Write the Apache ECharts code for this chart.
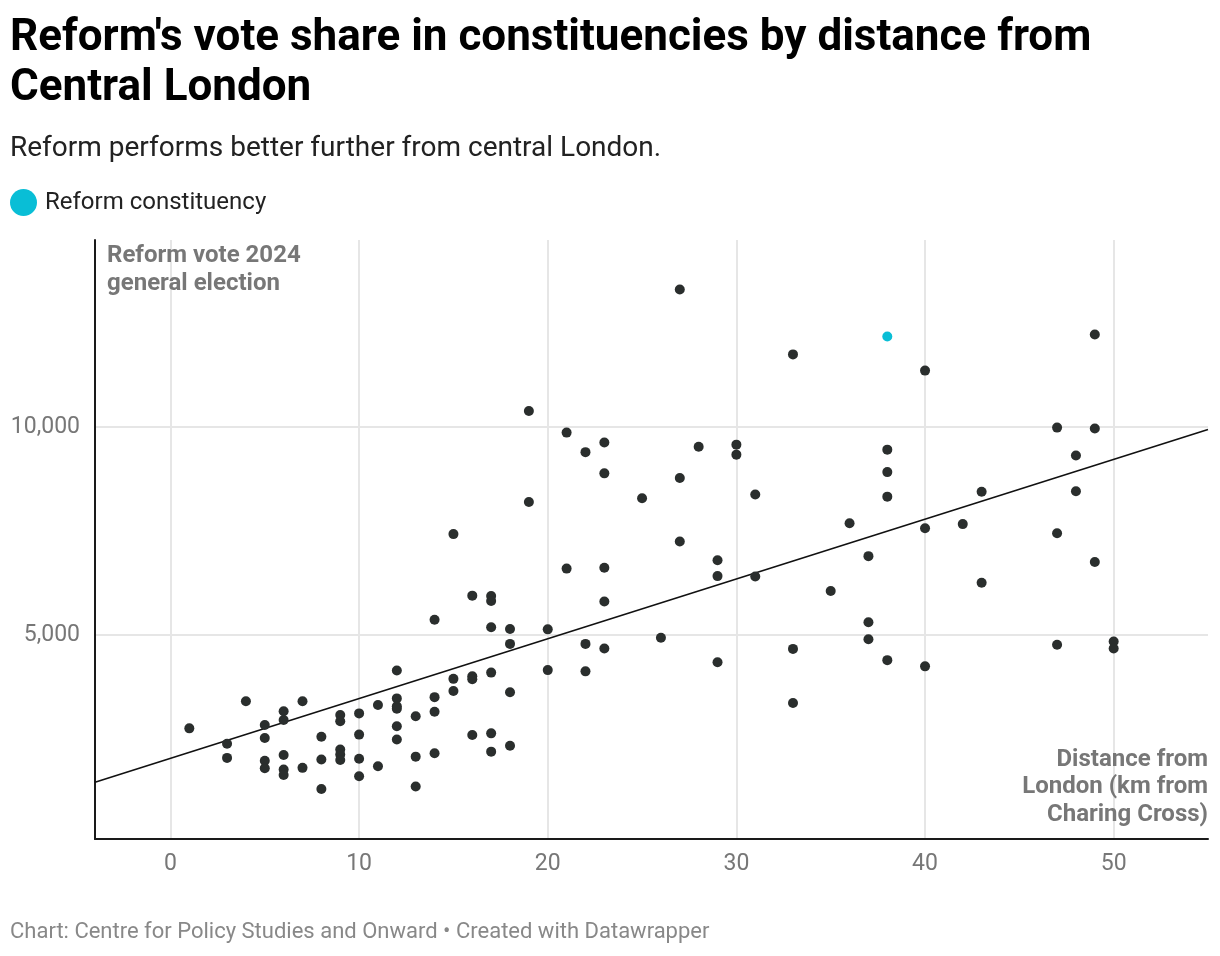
<!DOCTYPE html>
<html>
<head>
<meta charset="utf-8">
<title>Reform vote share by distance from Central London</title>
<script src="https://cdn.jsdelivr.net/npm/echarts@6/dist/echarts.min.js"></script>
<style>
    html, body { margin: 0; padding: 0; background: #fff; }
    #chart { width: 1220px; height: 956px; }
</style>
</head>
<body>
<div id="chart"></div>
<script>
// distance from Charing Cross (km) and Reform votes, one entry per constituency
const distanceKm = [
    1, 3, 3, 4, 5, 5, 5, 5, 6, 6, 6, 6, 6, 7, 7, 8, 8, 8,
    9, 9, 9, 9, 9, 10, 10, 10, 10, 11, 11, 12, 12, 12, 12, 12, 12,
    13, 13, 13, 14, 14, 14, 14, 15, 15, 15, 16, 16, 16, 16,
    17, 17, 17, 17, 17, 17, 18, 18, 18, 18, 19, 19, 20, 20, 21, 21,
    22, 22, 22, 23, 23, 23, 23, 23, 25, 26, 27, 27, 27, 28, 29, 29, 29,
    30, 30, 31, 31, 33, 33, 33, 35, 36, 37, 37, 37, 38, 38, 38, 38,
    40, 40, 40, 42, 43, 43, 47, 47, 47, 48, 48, 49, 49, 49, 50, 50
]
const reformVotes = [
    2760, 2390, 2050, 3410, 2840, 2530, 1980, 1800, 3170, 2960, 2120, 1770, 1640, 3410, 1810, 2560, 2010, 1300,
    3080, 2930, 2250, 2130, 2000, 3120, 2610, 2030, 1610, 3320, 1850, 4150, 3480, 3290, 3230, 2810, 2490,
    3050, 2080, 1360, 5370, 3510, 3160, 2160, 7430, 3950, 3660, 5950, 4010, 3940, 2600,
    5940, 5820, 5190, 4100, 2640, 2200, 5150, 4790, 3630, 2340, 10390, 8200, 5140, 4160, 9870, 6600,
    9400, 4790, 4130, 9630, 8890, 6620, 5810, 4680, 8290, 4940, 13310, 8780, 7250, 9530, 6800, 6420, 4350,
    9580, 9340, 8380, 6410, 11750, 4670, 3370, 6060, 7690, 6900, 5310, 4900, 9460, 8920, 8330, 4400,
    11360, 7570, 4250, 7670, 8450, 6260, 9990, 7450, 4770, 9320, 8460, 12230, 9970, 6760, 4850, 4680
]
// the highlighted Reform-held seat
const reformSeat = [38, 12180]
// trend line end points as drawn in the original
const trendLine = [[-4, 1466], [55, 9945]]

const xTicks = [0, 10, 20, 30, 40, 50]
const yTicks = [5000, 10000]

const FONT = 'Roboto, "Noto Sans", sans-serif'
const GREY = '#777777'

const dom = document.getElementById('chart')
const myChart = echarts.init(dom)

const points = distanceKm.map((d, i) => [d, reformVotes[i]])

const option = {
    animation: false,
    textStyle: { fontFamily: FONT },
    title: [
        {
            text: "Reform's vote share in constituencies by distance from\nCentral London",
            left: 10,
            top: 14,
            padding: 0,
            textStyle: { fontSize: 44, fontWeight: 'bold', lineHeight: 50, color: '#000', fontFamily: FONT }
        },
        {
            text: 'Reform performs better further from central London.',
            left: 10,
            top: 134,
            padding: 0,
            textStyle: { fontSize: 28, fontWeight: 'normal', lineHeight: 30, color: '#222', fontFamily: FONT }
        }
    ],
    legend: {
        data: ['Reform constituency'],
        left: 10,
        top: 189,
        padding: 0,
        icon: 'circle',
        itemWidth: 27,
        itemHeight: 27,
        selectedMode: false,
        textStyle: { fontSize: 24, color: '#222', fontFamily: FONT, padding: [0, 0, 0, 3] }
    },
    grid: {
        left: 95,
        right: 12,
        top: 240,
        bottom: 117
    },
    xAxis: {
        type: 'value',
        min: -4,
        max: 55,
        axisLine: { show: true, onZero: false, lineStyle: { color: '#1a1a1a', width: 2 } },
        axisTick: { show: false, customValues: xTicks },
        axisLabel: { customValues: xTicks, color: GREY, fontSize: 23, margin: 14, fontFamily: FONT },
        splitLine: { show: true, lineStyle: { color: '#e6e6e6', width: 2 } }
    },
    yAxis: {
        type: 'value',
        min: 100,
        max: 14500,
        axisLine: { show: true, onZero: false, lineStyle: { color: '#1a1a1a', width: 2 } },
        axisTick: { show: false, customValues: yTicks },
        axisLabel: {
            customValues: yTicks,
            color: GREY,
            fontSize: 23,
            margin: 15,
            fontFamily: FONT,
            formatter: (v) => v.toLocaleString('en-US')
        },
        splitLine: { show: true, lineStyle: { color: '#e6e6e6', width: 2 } }
    },
    graphic: [
        {
            type: 'text',
            x: 107,
            y: 242,
            z: 10,
            style: {
                text: 'Reform vote 2024\ngeneral election',
                font: 'bold 24px ' + FONT,
                fill: GREY,
                lineHeight: 28
            }
        },
        {
            type: 'text',
            x: 1208,
            y: 746,
            z: 10,
            style: {
                text: 'Distance from\nLondon (km from\nCharing Cross)',
                font: 'bold 24px ' + FONT,
                fill: GREY,
                lineHeight: 27.5,
                align: 'right'
            }
        },
        {
            type: 'text',
            x: 10,
            y: 932,
            style: {
                text: 'Chart: Centre for Policy Studies and Onward \u2022 Created with Datawrapper',
                font: '22px ' + FONT,
                fill: '#888888',
                verticalAlign: 'middle'
            }
        }
    ],
    series: [
        {
            name: 'trend',
            type: 'line',
            data: trendLine,
            showSymbol: false,
            silent: true,
            z: 1,
            lineStyle: { color: '#111', width: 1.6 }
        },
        {
            name: 'Other constituency',
            type: 'scatter',
            data: points,
            symbolSize: 10,
            z: 3,
            itemStyle: { color: '#2a2e2d', opacity: 1 }
        },
        {
            name: 'Reform constituency',
            type: 'scatter',
            data: [reformSeat],
            symbolSize: 10,
            z: 4,
            itemStyle: { color: '#09bed6', opacity: 1 }
        }
    ]
};

myChart.setOption(option);

window.onresize = () => {
    myChart.resize()
}
</script>
</body>
</html>
